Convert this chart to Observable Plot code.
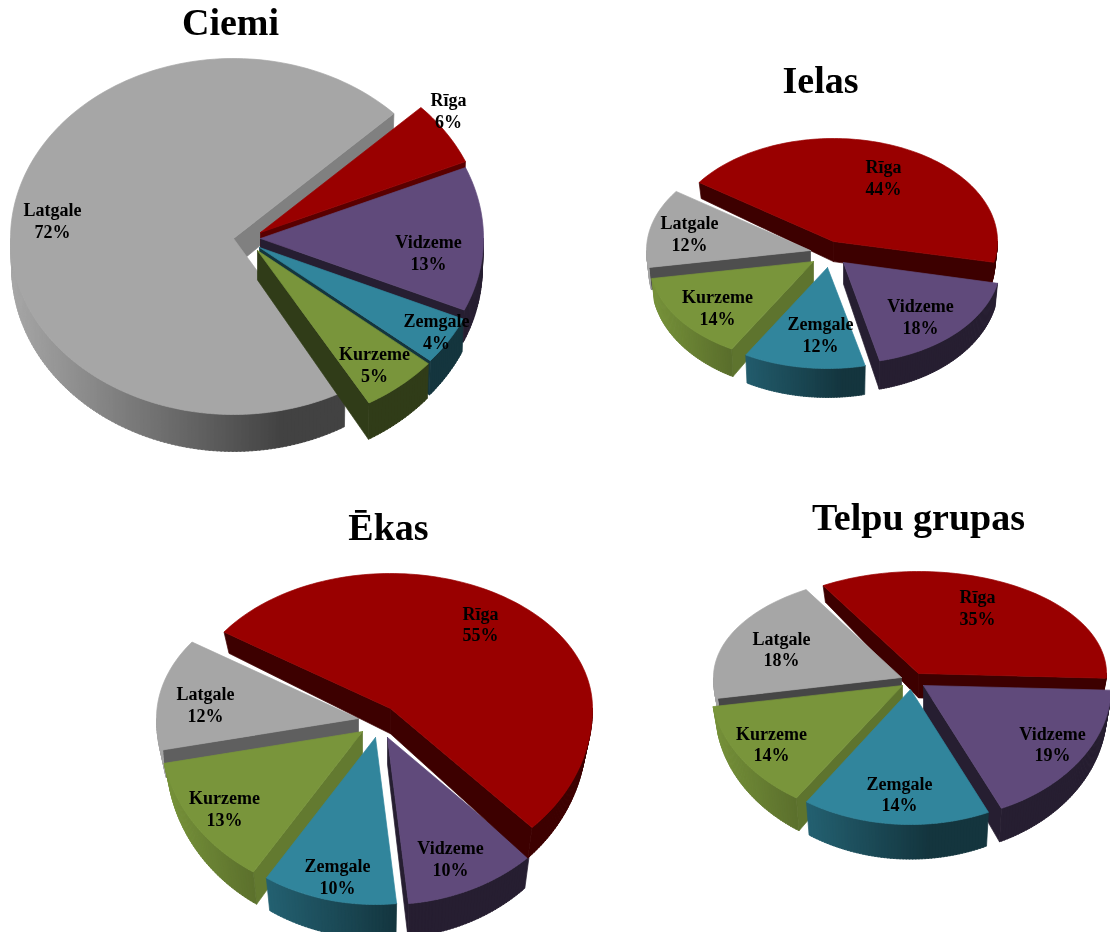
<!DOCTYPE html>
<html>
<head>
<meta charset="utf-8">
<script src="https://cdn.jsdelivr.net/npm/d3@7"></script>
<script src="https://cdn.jsdelivr.net/npm/@observablehq/plot@0.6"></script>
<style>
html,body{margin:0;padding:0;background:#fff;overflow:hidden}
svg{display:block;filter:blur(0.35px)}
</style>
</head>
<body>
<div id="chart"></div>
<script>
// DATA
const regions = ["Rīga", "Vidzeme", "Zemgale", "Kurzeme", "Latgale"];
const titles = ["Ciemi", "Ielas", "Ēkas", "Telpu grupas"];
const ciemi = [6, 13, 4, 5, 72];
const ielas = [44, 18, 12, 14, 12];
const ekas = [55, 10, 10, 13, 12];
const telpu = [35, 19, 14, 14, 18];
const shares = [ciemi, ielas, ekas, telpu];

// STYLE
const topColors = ["#990000", "#604a7b", "#31859c", "#79953b", "#a6a6a6"];

// LAYOUT of the four tilted pies
const layout = [
  {cx:257, cy:240, rx:223, ryB:180, ryF:176, a:29, b:8, taper:.995, start:46,
   warp:[0,-.8,-.4,1.2,3.2], rs:[1,1,1,1,1],
   off:[[3,-8],[3,-2],[2,7],[0,10],[-24,-2]],
   order:[4,0,1,2,3], wall:[.58,.4,.4,.4,.77],
   labels:[[448,109.5],[428,251.5],[436,330.5],[374,363.5],[52,219.5]], title:[230,22]},
  {cx:824, cy:254, rx:164, ryB:103, ryF:101, a:21, b:7, taper:.985, start:303.5,
   warp:[1.5,0,0,0,0], rs:[1,.96,1,1,1],
   off:[[9,-13],[19,8],[3,13],[-11,7],[-14,-4]],
   order:[0,4,1,3,2], wall:[.4,.4,.4,.78,.47],
   labels:[[883,176.5],[920,315.5],[820,333.5],[717,306.5],[689,232.5]], title:[820,80]},
  {cx:376, cy:722, rx:202, ryB:135, ryF:167, a:26, b:7, taper:.97, start:303,
   warp:[1.5,-5.5,-3,-.3,-.8], rs:[1,1,1,1,1],
   off:[[14,-14],[11,15],[-1,15],[-14,9],[-18,-4]],
   order:[4,1,0,3,2], wall:[.4,.4,.4,.82,.57],
   labels:[[480,623],[450,857.5],[337,875.5],[224,807.5],[205,703.5]], title:[388,527]},
  {cx:908, cy:680, rx:188, ryB:102, ryF:135, a:25, b:9, taper:.975, start:329.5,
   warp:[0,-3.5,-8.4,-.7,-3.7], rs:[1,1,1,1.02,1],
   off:[[10,-7],[15,5],[2,9],[-6,5],[-7,-3]],
   order:[0,4,1,3,2], wall:[.4,.4,.4,.78,.42],
   labels:[[977,606.5],[1052,743],[899,793],[771,743],[781,648]], title:[918,517]}
];

const rad = d => d * Math.PI / 180;
const shade = (hex, k) => {
  const c = d3.rgb(hex);
  return d3.rgb(c.r * k, c.g * k, c.b * k).formatHex();
};

const points = [];
const labelRows = [];
const titleRows = [];
let faceId = 0;

function addFace(pts, color) {
  const id = faceId++;
  for (const [x, y] of [...pts, pts[0]]) points.push({id, x, y, color});
}

shares.forEach((values, p) => {
  const L = layout[p];
  titleRows.push({text: titles[p], x: L.title[0], y: L.title[1]});
  const arcs = d3.pie().sort(null)
    .startAngle(rad(L.start)).endAngle(rad(L.start + 360))(values);
  const s0 = arcs.map((d, i) => d.startAngle * 180 / Math.PI + L.warp[i]);
  L.order.forEach(i => {
    const o = L.off[i];
    const r = L.rs[i];
    const rim = th => {
      const c = Math.cos(rad(th));
      return [L.cx + o[0] + r * L.rx * Math.sin(rad(th)),
              L.cy + o[1] - (c > 0 ? L.ryB : L.ryF) * c];
    };
    const down = ([x, y]) => {
      const c = (y - L.cy) / (y < L.cy ? L.ryB : L.ryF);
      const cx = L.cx + o[0];
      return [cx + (x - cx) * L.taper, y + L.a + L.b * c];
    };
    const s = s0[i];
    const e = i < 4 ? s0[i + 1] : s0[0] + 360;
    const base = topColors[i];
    const apex = [L.cx + o[0], L.cy + o[1]];
    const wallCol = shade(base, L.wall[i]);

    // radial cut faces, only when they turn towards the viewer
    if (Math.cos(rad(s - 90)) < 0) {
      const t = rim(s);
      addFace([apex, t, down(t), down(apex)], wallCol);
    }
    if (Math.cos(rad(e + 90)) < 0) {
      const t = rim(e);
      addFace([apex, t, down(t), down(apex)], wallCol);
    }
    // outer wall, in narrow strips for the left-to-right light fall-off
    for (const [lo, hi] of [[90, 270], [450, 630]]) {
      const a0 = Math.max(s, lo), a1 = Math.min(e, hi);
      if (a1 <= a0) continue;
      const n = Math.max(1, Math.ceil(a1 - a0));
      for (let k = 0; k < n; k++) {
        const t0 = a0 + (a1 - a0) * k / n;
        const t1 = Math.min(a1, a0 + (a1 - a0) * (k + 1) / n + 0.4);
        const A = rim(t0), B = rim(t1);
        const tx = ((A[0] + B[0]) / 2 - (L.cx - L.rx)) / (2 * L.rx);
        const col = shade(base, Math.max(.4, .95 - tx));
        addFace([A, B, down(B), down(A)], col);
      }
    }
    // top surface
    const top = [apex];
    const m = Math.ceil((e - s) / 1.5);
    for (let k = 0; k <= m; k++) top.push(rim(s + (e - s) * k / m));
    addFace(top, base);
  });
  regions.forEach((name, i) => {
    labelRows.push({
      text: `${name}\n${values[i]}%`,
      x: L.labels[i][0],
      y: L.labels[i][1]
    });
  });
});

const chart = Plot.plot({
  width: 1110,
  height: 932,
  margin: 0,
  style: {background: "#fff"},
  x: {domain: [0, 1110], range: [0, 1110], axis: null},
  y: {domain: [0, 932], range: [0, 932], axis: null},
  color: {type: "identity"},
  marks: [
    Plot.line(points, {
      x: "x", y: "y", z: "id",
      fill: "color", stroke: "color",
      strokeWidth: 0.7, strokeLinejoin: "round"
    }),
    Plot.text(labelRows, {
      x: "x", y: "y", text: "text",
      fontFamily: "Liberation Serif", fontWeight: "bold", fontSize: 18,
      lineHeight: 1.2, lineAnchor: "middle", textAnchor: "middle", fill: "#000"
    }),
    Plot.text(titleRows, {
      x: "x", y: "y", text: "text",
      fontFamily: "Liberation Serif", fontWeight: "bold", fontSize: 38,
      lineAnchor: "middle", textAnchor: "middle", fill: "#000"
    })
  ]
});
document.getElementById("chart").appendChild(chart);
</script>
</body>
</html>
